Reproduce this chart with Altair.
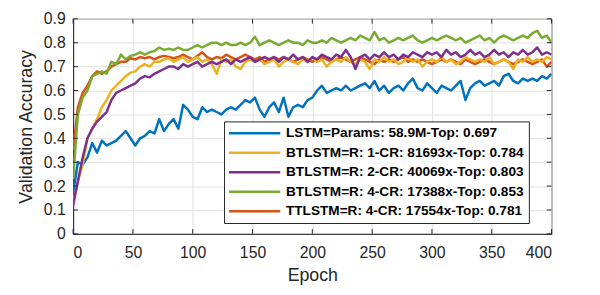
import altair as alt
import pandas as pd

epochs = list(range(0, 401, 4))

lstm = [
    0.17, 0.30, 0.29, 0.32, 0.38, 0.34, 0.39, 0.37, 0.38, 0.39,
    0.41, 0.43, 0.40, 0.37, 0.40, 0.41, 0.43, 0.42, 0.48, 0.43,
    0.46, 0.48, 0.44, 0.54, 0.52, 0.49, 0.48, 0.53, 0.51, 0.52,
    0.51, 0.50, 0.52, 0.53, 0.52, 0.54, 0.56, 0.55, 0.57, 0.52,
    0.49, 0.53, 0.55, 0.51, 0.57, 0.49, 0.53, 0.54, 0.53, 0.56,
    0.57, 0.60, 0.62, 0.59, 0.60, 0.61, 0.60, 0.62, 0.60, 0.61,
    0.62, 0.63, 0.61, 0.64, 0.60, 0.62, 0.59, 0.61, 0.62, 0.60,
    0.63, 0.65, 0.61, 0.60, 0.63, 0.61, 0.59, 0.62, 0.61, 0.60,
    0.62, 0.64, 0.56, 0.61, 0.63, 0.64, 0.62, 0.63, 0.64, 0.62,
    0.66, 0.67, 0.64, 0.63, 0.65, 0.64, 0.65, 0.64, 0.66, 0.65,
    0.67,
]

bt1 = [
    0.13, 0.22, 0.29, 0.40, 0.44, 0.48, 0.53, 0.56, 0.60, 0.62,
    0.64, 0.66, 0.675, 0.68, 0.70, 0.71, 0.70, 0.72, 0.72, 0.73,
    0.735, 0.72, 0.73, 0.74, 0.72, 0.73, 0.74, 0.72, 0.73, 0.71,
    0.67, 0.73, 0.72, 0.73, 0.70, 0.69, 0.72, 0.73, 0.72, 0.73,
    0.71, 0.72, 0.73, 0.70, 0.72, 0.73, 0.72, 0.71, 0.73, 0.72,
    0.74, 0.72, 0.73, 0.70, 0.72, 0.73, 0.72, 0.74, 0.72, 0.71,
    0.73, 0.72, 0.69, 0.73, 0.72, 0.74, 0.72, 0.73, 0.71, 0.72,
    0.74, 0.72, 0.73, 0.70, 0.72, 0.73, 0.72, 0.74, 0.72, 0.73,
    0.71, 0.72, 0.74, 0.73, 0.72, 0.73, 0.72, 0.74, 0.71, 0.72,
    0.73, 0.72, 0.69, 0.73, 0.72, 0.74, 0.72, 0.73, 0.72, 0.74,
    0.73,
]

bt2 = [
    0.12, 0.22, 0.32, 0.40, 0.44, 0.47, 0.49, 0.51, 0.56, 0.59,
    0.60, 0.61, 0.62, 0.63, 0.65, 0.66, 0.655, 0.67, 0.68, 0.69,
    0.70, 0.70, 0.69, 0.71, 0.70, 0.71, 0.72, 0.70, 0.71, 0.72,
    0.71, 0.72, 0.73, 0.71, 0.73, 0.72, 0.73, 0.74, 0.72, 0.73,
    0.74, 0.73, 0.74, 0.72, 0.74, 0.73, 0.75, 0.73, 0.74, 0.72,
    0.74, 0.73, 0.75, 0.74, 0.73, 0.75, 0.74, 0.77, 0.74, 0.69,
    0.74, 0.75, 0.73, 0.75, 0.74, 0.76, 0.74, 0.75, 0.73, 0.75,
    0.74, 0.76, 0.75, 0.74, 0.76, 0.75, 0.76, 0.74, 0.77, 0.75,
    0.76, 0.74, 0.75, 0.77, 0.75, 0.76, 0.74, 0.75, 0.77, 0.75,
    0.76, 0.74, 0.76, 0.75, 0.77, 0.75, 0.76, 0.78, 0.75, 0.76,
    0.75,
]

bt4 = [
    0.23, 0.50, 0.57, 0.60, 0.66, 0.67, 0.68, 0.67, 0.72, 0.71,
    0.75, 0.73, 0.745, 0.75, 0.76, 0.75, 0.76, 0.765, 0.78, 0.77,
    0.775, 0.77, 0.78, 0.77, 0.77, 0.78, 0.79, 0.78, 0.79, 0.80,
    0.80, 0.79, 0.80, 0.79, 0.79, 0.80, 0.79, 0.80, 0.825, 0.79,
    0.80, 0.81, 0.80, 0.79, 0.80, 0.81, 0.80, 0.80, 0.79, 0.81,
    0.80, 0.80, 0.81, 0.80, 0.82, 0.81, 0.80, 0.81, 0.82, 0.81,
    0.83, 0.82, 0.81, 0.845, 0.81, 0.82, 0.80, 0.81, 0.82, 0.81,
    0.82, 0.83, 0.81, 0.80, 0.81, 0.82, 0.81, 0.82, 0.83, 0.82,
    0.81, 0.82, 0.80, 0.81, 0.82, 0.83, 0.81, 0.82, 0.80, 0.82,
    0.83, 0.82, 0.81, 0.82, 0.83, 0.82, 0.84, 0.85, 0.82, 0.83,
    0.80,
]

tt4 = [
    0.35, 0.53, 0.59, 0.62, 0.66, 0.68, 0.67, 0.68, 0.70, 0.71,
    0.72, 0.72, 0.735, 0.73, 0.74, 0.735, 0.74, 0.73, 0.74, 0.745,
    0.74, 0.735, 0.74, 0.75, 0.74, 0.73, 0.745, 0.76, 0.74, 0.73,
    0.74, 0.735, 0.75, 0.74, 0.73, 0.74, 0.75, 0.74, 0.73, 0.74,
    0.72, 0.73, 0.74, 0.73, 0.74, 0.73, 0.72, 0.73, 0.74, 0.73,
    0.72, 0.73, 0.74, 0.73, 0.72, 0.73, 0.74, 0.73, 0.72, 0.73,
    0.74, 0.73, 0.72, 0.71, 0.73, 0.72, 0.73, 0.72, 0.73, 0.74,
    0.72, 0.73, 0.72, 0.73, 0.72, 0.71, 0.72, 0.73, 0.72, 0.73,
    0.72, 0.71, 0.73, 0.72, 0.71, 0.72, 0.73, 0.72, 0.71, 0.72,
    0.73, 0.72, 0.71, 0.72, 0.73, 0.72, 0.71, 0.72, 0.73, 0.70,
    0.72,
]

series_names = [
    "LSTM=Params: 58.9M-Top: 0.697",
    "BTLSTM=R: 1-CR: 81693x-Top: 0.784",
    "BTLSTM=R: 2-CR: 40069x-Top: 0.803",
    "BTLSTM=R: 4-CR: 17388x-Top: 0.853",
    "TTLSTM=R: 4-CR: 17554x-Top: 0.781",
]
series_colors = ["#0072BD", "#EDB120", "#7E2F8E", "#77AC30", "#D95319"]
series_values = [lstm, bt1, bt2, bt4, tt4]
draw_order = [4, 0, 1, 2, 3]

x_ticks = [0, 50, 100, 150, 200, 250, 300, 350, 400]
y_ticks = [0.0, 0.1, 0.2, 0.3, 0.4, 0.5, 0.6, 0.7, 0.8, 0.9]

FONT = "Liberation Sans"
INK = "#262626"
GRID = "#e2e2e2"

xscale = alt.Scale(domain=[0, 400], nice=False, zero=False)
yscale = alt.Scale(domain=[0, 0.9], nice=False, zero=False)

xaxis = alt.Axis(
    values=x_ticks, title="Epoch", format="d", ticks=False,
    labelFont=FONT, labelFontSize=16, labelColor=INK, labelPadding=10.5,
    titleFont=FONT, titleFontSize=18, titleFontWeight="normal", titleColor=INK,
    titlePadding=7, grid=True, gridColor=GRID, gridWidth=1,
    domainColor=INK, domainWidth=1,
)
yaxis = alt.Axis(
    values=y_ticks, title="Validation Accuracy", format=".1~f", ticks=False,
    labelFont=FONT, labelFontSize=16, labelColor=INK, labelPadding=8,
    titleFont=FONT, titleFontSize=18, titleFontWeight="normal", titleColor=INK,
    titlePadding=8, grid=True, gridColor=GRID, gridWidth=1,
    domainColor=INK, domainWidth=1,
)

legend = alt.Legend(
    orient="none", legendX=153, legendY=104, title=None,
    symbolType="M-1.38,0H9.02", symbolSize=100, symbolStrokeWidth=2.5,
    labelFont=FONT, labelFontSize=13.8, labelFontWeight="bold", labelColor="black",
    labelLimit=500, labelOffset=44, rowPadding=4.8, padding=5,
    strokeColor=INK, fillColor="white", cornerRadius=0,
)
color = alt.Color(
    "series:N",
    scale=alt.Scale(domain=series_names, range=series_colors),
    legend=legend,
)

X = alt.X("epoch:Q", scale=xscale, axis=xaxis)
Y = alt.Y("acc:Q", scale=yscale, axis=yaxis)

# inward tick marks on all four sides (MATLAB box style)
xt_rows = []
for e in x_ticks:
    xt_rows.append({"epoch": e, "acc": 0.0, "acc2": 0.02})
    xt_rows.append({"epoch": e, "acc": 0.9, "acc2": 0.88})
yt_rows = []
for v in y_ticks:
    yt_rows.append({"epoch": 0, "epoch2": 4, "acc": v})
    yt_rows.append({"epoch": 400, "epoch2": 396, "acc": v})

xtick_layer = alt.Chart(pd.DataFrame(xt_rows)).mark_rule(color=INK, strokeWidth=1).encode(
    x=X, y=Y, y2="acc2:Q"
)
ytick_layer = alt.Chart(pd.DataFrame(yt_rows)).mark_rule(color=INK, strokeWidth=1).encode(
    x=X, x2="epoch2:Q", y=Y
)

layers = []
for i in draw_order:
    df = pd.DataFrame({"epoch": epochs, "acc": series_values[i], "series": series_names[i]})
    layers.append(
        alt.Chart(df).mark_line(strokeWidth=2.5, clip=True, strokeJoin="round").encode(
            x=X, y=Y, color=color
        )
    )

chart = alt.layer(*layers, xtick_layer, ytick_layer).properties(
    width=485,
    height=218,
    autosize=alt.AutoSizeParams(type="none"),
    padding={"left": 66, "top": 9, "right": 41, "bottom": 60},
    background="white",
).configure_view(
    stroke=INK, strokeWidth=1
)

chart.save("out.html", embed_options={"renderer": "svg", "actions": False})
